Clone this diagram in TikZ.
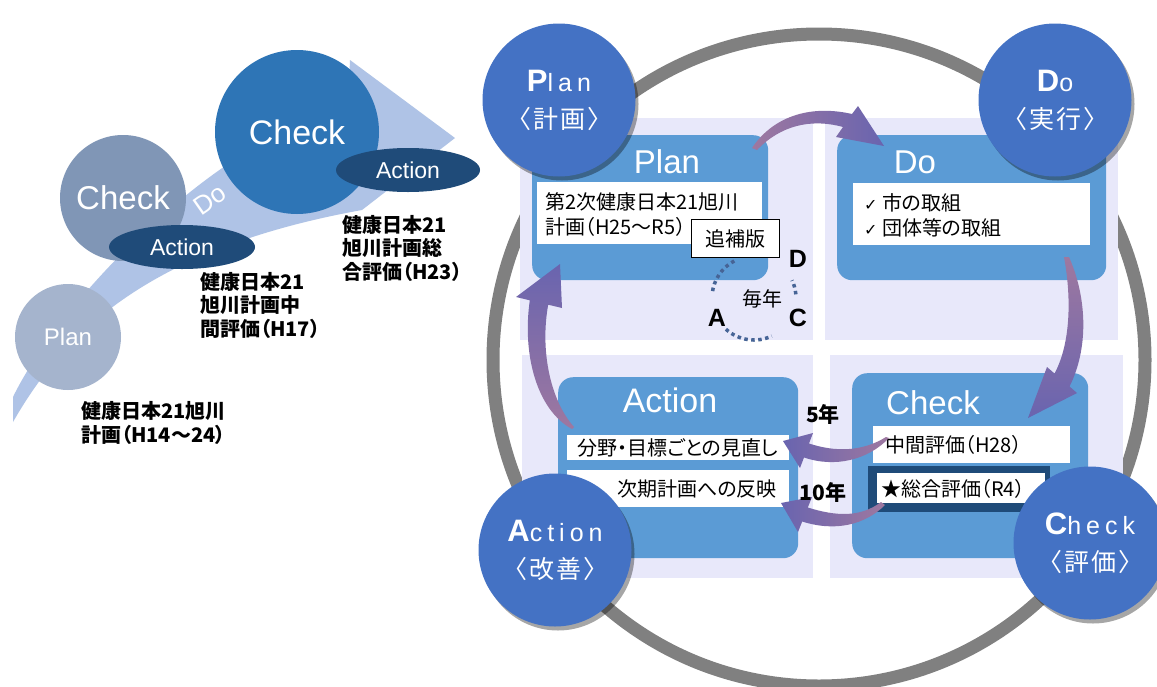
\documentclass[tikz,border=0pt]{standalone}
\usepackage{fontspec}
\setmainfont{Liberation Sans}
\newfontfamily\jp[RawFeature=+palt]{Noto Sans CJK JP}
\newfontfamily\jpsp[LetterSpace=8]{Noto Sans CJK JP}
\newfontfamily\spc[LetterSpace=20]{Liberation Sans}
\newfontfamily\djv{DejaVu Sans}
\usetikzlibrary{shadows,shapes.geometric}
\definecolor{ringc}{RGB}{128,128,128}
\definecolor{panelc}{RGB}{232,232,250}
\definecolor{boxblue}{RGB}{91,155,213}
\definecolor{circblue}{RGB}{68,114,196}
\definecolor{navy}{RGB}{31,75,121}
\definecolor{swooshc}{RGB}{175,195,230}
\definecolor{lplanc}{RGB}{165,180,205}
\definecolor{lcheckc}{RGB}{128,150,182}
\definecolor{bcheckc}{RGB}{46,117,182}
\definecolor{mauve}{RGB}{158,120,160}
\definecolor{violetb}{RGB}{105,100,175}
\definecolor{dotc}{RGB}{70,100,150}
\tikzset{
  bigcirc/.style={circle, fill=circblue, minimum size=153pt, inner sep=0pt, text=white, align=center,
    drop shadow={shadow xshift=3pt, shadow yshift=-4pt, opacity=0.35, fill=black},
    font=\fontsize{25}{37}\selectfont},
  panelbox/.style={fill=panelc, anchor=north west, inner sep=0pt},
  bluebox/.style={fill=boxblue, rounded corners=15pt, anchor=north west, inner sep=0pt},
  whitebox/.style={fill=white, anchor=north west, inner sep=0pt},
  boxtitle/.style={text=white, inner sep=0pt, font=\fontsize{33}{33}\selectfont},
  jptext/.style={inner sep=0pt, align=left, font=\jp\fontsize{20}{25}\selectfont},
  lefttext/.style={inner sep=0pt, anchor=west, align=left, font=\jp\bfseries\fontsize{20}{23.5}\selectfont},
  arrowfill/.style={left color=mauve, right color=violetb},
  dotarc/.style={dotc, line width=3.5pt, dash pattern=on 3.5pt off 3.5pt},
  adc/.style={inner sep=0pt, font=\bfseries\fontsize{25}{25}\selectfont},
}
\begin{document}
\begin{tikzpicture}[x=1pt,y=-1pt]
\useasboundingbox (0,0) rectangle (1157,686);
\clip (0,0) rectangle (1157,686);
\fill[white] (0,0) rectangle (1157,686);

% ---------- left part ----------
\fill[swooshc] (13,422) .. controls (60,340) and (140,250) .. (362,210) -- (455,138) -- (350,60) -- (348,108)
  .. controls (220,135) and (60,300) .. (13,397) -- cycle;
\node[circle, fill=lplanc, minimum size=106pt, inner sep=0pt, text=white, font=\fontsize{24}{24}\selectfont] (lplan) at (68,337) {Plan};
\node[circle, fill=lcheckc, minimum size=126pt, inner sep=0pt, text=white, font=\fontsize{33}{33}\selectfont] (lcheck) at (123,198) {Check};
\node[rotate=35, text=white, inner sep=0pt, font=\fontsize{26}{26}\selectfont] (ldo) at (210,200) {Do};
\node[ellipse, fill=navy, minimum width=146pt, minimum height=44pt, inner sep=0pt, text=white, font=\fontsize{23}{23}\selectfont] (lact1) at (182,247) {Action};
\node[circle, fill=bcheckc, minimum size=164pt, inner sep=0pt, text=white, font=\fontsize{34}{34}\selectfont] (bcheck) at (297,132) {Check};
\node[ellipse, fill=navy, minimum width=144pt, minimum height=44pt, inner sep=0pt, text=white, font=\fontsize{23}{23}\selectfont] (lact2) at (408,170) {Action};

\node[lefttext] (t1) at (81,423) {健康日本21旭川\\計画（H14～24）};
\node[lefttext] (t2) at (200,305) {健康日本21\\旭川計画中\\間評価（H17）};
\node[lefttext] (t3) at (342,248) {健康日本21\\旭川計画総\\合評価（H23）};

% ---------- right part ----------
\draw[ringc, line width=13pt] (819,360) circle (326);

\node[panelbox, minimum width=293pt, minimum height=222pt] (pTL) at (520,118) {};
\node[panelbox, minimum width=293pt, minimum height=222pt] (pTR) at (825,118) {};
\node[panelbox, minimum width=291pt, minimum height=223pt] (pBL) at (522,355) {};
\node[panelbox, minimum width=293pt, minimum height=223pt] (pBR) at (830,355) {};

\node[bluebox, minimum width=236pt, minimum height=145pt] (planbox) at (532,135) {};
\node[bluebox, minimum width=269pt, minimum height=145pt] (dobox) at (837,135) {};
\node[bluebox, minimum width=240pt, minimum height=181pt] (actbox) at (558,377) {};
\node[bluebox, minimum width=236pt, minimum height=185pt] (chkbox) at (852,373) {};

\node[boxtitle] (plantitle) at (667,162) {Plan};
\node[boxtitle] (dotitle) at (915,162) {Do};
\node[boxtitle, font=\fontsize{34}{34}\selectfont] (acttitle) at (670,400) {Action};
\node[boxtitle] (chktitle) at (933,403) {Check};

% white boxes
\node[whitebox, minimum width=225pt, minimum height=62pt] (planw) at (537,182) {};
\node[jptext, anchor=west] (planwt) at (545,214.5) {第2次健康日本21旭川\\計画（H25～R5）};
\node[whitebox, draw=black, line width=0.8pt, minimum width=88pt, minimum height=38pt] (tsuiho) at (691,219) {};
\node[jptext] (tsuihot) at (tsuiho.center) {追補版};

\node[whitebox, minimum width=237pt, minimum height=62pt] (dow) at (853,183) {};
\node[jptext, anchor=west] (dowt) at (864,215.5) {{\djv\bfseries\fontsize{16}{25}\selectfont ✓} 市の取組\\{\djv\bfseries\fontsize{16}{25}\selectfont ✓} 団体等の取組};

\node[whitebox, minimum width=222pt, minimum height=25pt] (actw1) at (567,435) {};
\node[jptext, anchor=west] (actw1t) at (577,447.5) {分野・目標ごとの見直し};
\node[whitebox, minimum width=222pt, minimum height=37pt] (actw2) at (567,470) {};
\node[jptext, anchor=east] (actw2t) at (777,489) {次期計画への反映};

\node[whitebox, minimum width=197pt, minimum height=37pt] (chkw1) at (873,426) {};
\node[jptext, anchor=west] (chkw1t) at (885,445) {中間評価（H28）};
\node[fill=navy, anchor=north west, inner sep=0pt, minimum width=182pt, minimum height=46pt] (chknavy) at (868,466) {};
\node[whitebox, minimum width=168pt, minimum height=30pt] (chkw2) at (877,473) {};
\node[jptext, anchor=west] (chkw2t) at (881,489) {★総合評価（R4）};

% ---------- purple arrows ----------
\shade[arrowfill] (752,148) .. controls (772,118) and (808,104) .. (852,114) -- (858,106) -- (884,146) -- (836,137) -- (843,127)
  .. controls (810,118) and (780,126) .. (757,150) -- cycle;
\shade[top color=mauve, bottom color=violetb] (1064,257) -- (1069,257) .. controls (1088,300) and (1088,350) .. (1069.5,386.5)
  -- (1077,393) -- (1028,418) -- (1047,367) -- (1054.5,373.5) .. controls (1070,345) and (1072,300) .. (1064,257) -- cycle;
\shade[left color=violetb, right color=mauve] (886,437) .. controls (862,452) and (835,452) .. (809,443.5) -- (813,433) -- (783,441)
  -- (800,468) -- (804,457.5) .. controls (835,468) and (868,460) .. (889,438) -- cycle;
\shade[left color=violetb, right color=mauve] (881,502) .. controls (860,518) and (835,516) .. (807.8,507.5) -- (812,497) -- (781,503)
  -- (798,532) -- (802.2,521.5) .. controls (835,532) and (865,525) .. (885,505) -- cycle;
\shade[top color=violetb, bottom color=mauve] (572,429) .. controls (537,410) and (522,355) .. (529.8,300.3) -- (516,297) -- (560,264)
  -- (562,308) -- (548.2,304.7) .. controls (540,350) and (550,400) .. (574,427) -- cycle;

\node[inner sep=0pt, font=\jp\bfseries\fontsize{21}{21}\selectfont] (five) at (823,414) {5年};
\node[inner sep=0pt, font=\jp\bfseries\fontsize{21}{21}\selectfont] (ten) at (823,492) {10年};

% ---------- yearly cycle ----------
\coordinate (cyc) at (754,298);
\draw[dotarc] (cyc) ++(-118:42) arc[start angle=-118, end angle=-175, radius=42];
\draw[dotarc] (cyc) ++(-228:42) arc[start angle=-228, end angle=-295, radius=42];
\draw[dotarc] (cyc) ++(-5:42) arc[start angle=-5, end angle=-25, radius=42];
\node[adc] (lD) at (798,259) {D};
\node[adc] (lA) at (717,318) {A};
\node[adc] (lC) at (798,318) {C};
\node[inner sep=0pt, font=\jp\fontsize{20}{20}\selectfont] (mainen) at (762,299) {毎年};

% ---------- PDCA circles ----------
\node[bigcirc] (cplan) at (559,100) {{\bfseries\fontsize{31}{37}\selectfont P}{\spc lan}\\{\jpsp 〈計画〉}};
\node[bigcirc] (cdo) at (1055,100) {{\bfseries\fontsize{31}{37}\selectfont D}{\spc o}\\{\jpsp 〈実行〉}};
\node[bigcirc] (cact) at (555,550) {{\bfseries\fontsize{31}{37}\selectfont A}{\spc ction}\\{\jpsp 〈改善〉}};
\node[bigcirc] (cchk) at (1090,543) {{\bfseries\fontsize{31}{37}\selectfont C}{\spc heck}\\{\jpsp 〈評価〉}};
\end{tikzpicture}
\end{document}
